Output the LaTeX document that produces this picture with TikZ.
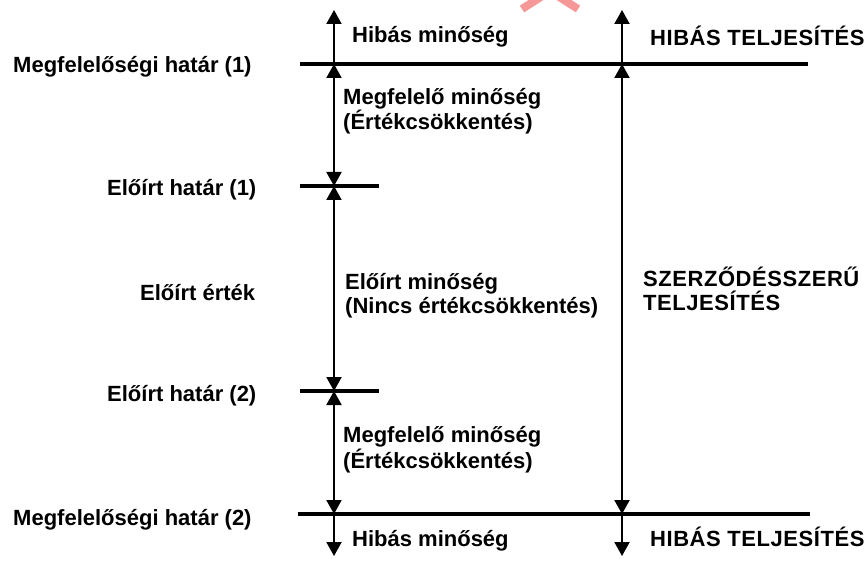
\documentclass[tikz,border=0pt]{standalone}
\usepackage{fontspec}
\setmainfont{Liberation Sans}
\usetikzlibrary{arrows.meta}
\tikzset{
    x=1pt,
    y=-1pt,
    limit/.style = {
        draw,
        line width=3.5pt
    },
    zonespan/.style = {
        draw,
        line width=2pt,
        {Triangle[width=15pt,length=14pt]}-{Triangle[width=15pt,length=14pt]}
    },
    reach/.style = {
        draw,
        line width=2pt,
        -{Triangle[width=15pt,length=14pt]}
    },
    limitname/.style = {
        anchor=base west,
        inner sep=0pt,
        font=\bfseries\fontsize{22}{24}\selectfont
    },
    zone/.style = {
        anchor=base west,
        inner sep=0pt,
        align=left,
        font=\bfseries\fontsize{22}{24}\selectfont
    },
    verdict/.style = {
        zone,
        font=\bfseries\fontsize{22}{24}\selectfont\addfontfeature{LetterSpace=2.5}
    },
}

\begin{document}
\begin{tikzpicture}
    \useasboundingbox[fill=white] (0,0) rectangle (866,561);

    % stamp cut by the top edge
    \begin{scope}
        \clip (0,0) rectangle (866,561);
        \draw[line width=8pt, color={rgb,255:red,247;green,152;blue,152}]
            (522,9) -- (550,-9) -- (578,9);
    \end{scope}

    % limits
    \coordinate (mh1w) at (300,64);  \coordinate (mh1e) at (808,64);
    \coordinate (eh1w) at (300,186); \coordinate (eh1e) at (379,186);
    \coordinate (eh2w) at (300,391); \coordinate (eh2e) at (379,391);
    \coordinate (mh2w) at (298,514); \coordinate (mh2e) at (810,514);

    % quality axis
    \coordinate (q0) at (334,10);
    \coordinate (q1) at (334,64);
    \coordinate (q2) at (334,186);
    \coordinate (q3) at (334,391);
    \coordinate (q4) at (334,514);
    \coordinate (q5) at (334,556);

    % performance axis
    \coordinate (p0) at (622,10);
    \coordinate (p1) at (622,64);
    \coordinate (p2) at (622,514);
    \coordinate (p3) at (622,556);

    \path[limit] (mh1w) -- (mh1e);
    \path[limit] (eh1w) -- (eh1e);
    \path[limit] (eh2w) -- (eh2e);
    \path[limit] (mh2w) -- (mh2e);

    \path[reach] (q1) -- (q0);
    \path[zonespan] (q1) -- (q2);
    \path[zonespan] (q2) -- (q3);
    \path[zonespan] (q3) -- (q4);
    \path[reach] (q4) -- (q5);

    \path[reach] (p1) -- (p0);
    \path[zonespan] (p1) -- (p2);
    \path[reach] (p2) -- (p3);

    % names of the limits
    \node[limitname] (mh1) at (13,73) {Megfelelőségi határ (1)};
    \node[limitname] (eh1) at (107,196) {Előírt határ (1)};
    \node[limitname] (ee) at (140,300) {Előírt érték};
    \node[limitname] (eh2) at (107,401) {Előírt határ (2)};
    \node[limitname] (mh2) at (13,525) {Megfelelőségi határ (2)};

    % quality zones
    \node[zone] (hm1) at (352,43) {Hibás minőség};
    \node[zone] (mm1) at (343,130) {Megfelelő minőség\\(Értékcsökkentés)};
    \node[zone] (em) at (345,313) {Előírt minőség\\(Nincs értékcsökkentés)};
    \node[zone] (mm2) at (343,468) {Megfelelő minőség\\(Értékcsökkentés)};
    \node[zone] (hm2) at (352,546) {Hibás minőség};

    % performance zones
    \node[verdict] (ht1) at (650,46) {HIBÁS TELJESÍTÉS};
    \node[verdict] (szt) at (643,310) {SZERZŐDÉSSZERŰ\\TELJESÍTÉS};
    \node[verdict] (ht2) at (650,546) {HIBÁS TELJESÍTÉS};
\end{tikzpicture}
\end{document}
